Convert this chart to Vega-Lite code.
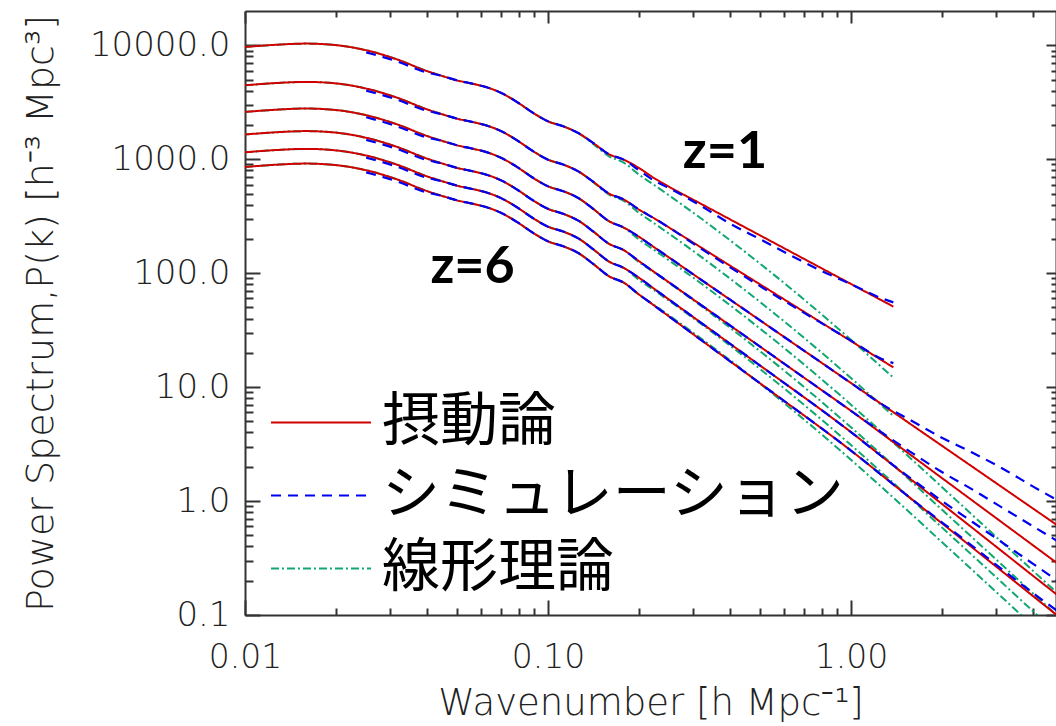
{
  "$schema": "https://vega.github.io/schema/vega-lite/v6.json",
  "width": 811,
  "height": 604,
  "autosize": {"type": "none"},
  "padding": {"left": 245, "top": 11, "right": 0, "bottom": 111},
  "background": "white",
  "config": {"view": {"stroke": null}, "font": "DejaVu Sans"},
  "layer": [
    {
      "data": {"values": [
        {"s":"線形理論","z":1,"k":0.01,"P":9663},{"s":"線形理論","z":1,"k":0.01259,"P":10101},{"s":"線形理論","z":1,"k":0.01585,"P":10349},{"s":"線形理論","z":1,"k":0.01995,"P":10041},{"s":"線形理論","z":1,"k":0.02512,"P":9040},{"s":"線形理論","z":1,"k":0.03162,"P":7552},{"s":"線形理論","z":1,"k":0.03981,"P":5951},{"s":"線形理論","z":1,"k":0.04467,"P":5390},{"s":"線形理論","z":1,"k":0.05012,"P":4922},{"s":"線形理論","z":1,"k":0.05623,"P":4606},{"s":"線形理論","z":1,"k":0.0631,"P":4264},{"s":"線形理論","z":1,"k":0.07079,"P":3770},{"s":"線形理論","z":1,"k":0.07943,"P":3150},{"s":"線形理論","z":1,"k":0.08913,"P":2558},{"s":"線形理論","z":1,"k":0.1,"P":2150},{"s":"線形理論","z":1,"k":0.1122,"P":1948},{"s":"線形理論","z":1,"k":0.1259,"P":1697},{"s":"線形理論","z":1,"k":0.1413,"P":1357},{"s":"線形理論","z":1,"k":0.1585,"P":1067},{"s":"線形理論","z":1,"k":0.1778,"P":933.7},{"s":"線形理論","z":1,"k":0.1995,"P":734.2},{"s":"線形理論","z":1,"k":0.2239,"P":595.1},{"s":"線形理論","z":1,"k":0.2512,"P":480.4},{"s":"線形理論","z":1,"k":0.3162,"P":309.3},{"s":"線形理論","z":1,"k":0.3981,"P":195.2},{"s":"線形理論","z":1,"k":0.5012,"P":121.1},{"s":"線形理論","z":1,"k":0.631,"P":73.86},{"s":"線形理論","z":1,"k":0.7943,"P":44.22},{"s":"線形理論","z":1,"k":1.0,"P":26.05},{"s":"線形理論","z":1,"k":1.259,"P":15.07},{"s":"線形理論","z":1,"k":1.38,"P":12.14},
        {"s":"線形理論","z":2,"k":0.01,"P":4458},{"s":"線形理論","z":2,"k":0.01259,"P":4660},{"s":"線形理論","z":2,"k":0.01585,"P":4774},{"s":"線形理論","z":2,"k":0.01995,"P":4632},{"s":"線形理論","z":2,"k":0.02512,"P":4170},{"s":"線形理論","z":2,"k":0.03162,"P":3484},{"s":"線形理論","z":2,"k":0.03981,"P":2745},{"s":"線形理論","z":2,"k":0.04467,"P":2486},{"s":"線形理論","z":2,"k":0.05012,"P":2271},{"s":"線形理論","z":2,"k":0.05623,"P":2125},{"s":"線形理論","z":2,"k":0.0631,"P":1967},{"s":"線形理論","z":2,"k":0.07079,"P":1739},{"s":"線形理論","z":2,"k":0.07943,"P":1453},{"s":"線形理論","z":2,"k":0.08913,"P":1180},{"s":"線形理論","z":2,"k":0.1,"P":991.8},{"s":"線形理論","z":2,"k":0.1122,"P":898.6},{"s":"線形理論","z":2,"k":0.1259,"P":782.8},{"s":"線形理論","z":2,"k":0.1413,"P":626.0},{"s":"線形理論","z":2,"k":0.1585,"P":492.2},{"s":"線形理論","z":2,"k":0.1778,"P":430.7},{"s":"線形理論","z":2,"k":0.1995,"P":338.7},{"s":"線形理論","z":2,"k":0.2239,"P":274.5},{"s":"線形理論","z":2,"k":0.2512,"P":221.6},{"s":"線形理論","z":2,"k":0.3162,"P":142.7},{"s":"線形理論","z":2,"k":0.3981,"P":90.05},{"s":"線形理論","z":2,"k":0.5012,"P":55.86},{"s":"線形理論","z":2,"k":0.631,"P":34.07},{"s":"線形理論","z":2,"k":0.7943,"P":20.40},{"s":"線形理論","z":2,"k":1.0,"P":12.02},{"s":"線形理論","z":2,"k":1.259,"P":6.952},{"s":"線形理論","z":2,"k":1.38,"P":5.600},
        {"s":"線形理論","z":3,"k":0.01,"P":2601},{"s":"線形理論","z":3,"k":0.01259,"P":2719},{"s":"線形理論","z":3,"k":0.01585,"P":2786},{"s":"線形理論","z":3,"k":0.01995,"P":2703},{"s":"線形理論","z":3,"k":0.02512,"P":2434},{"s":"線形理論","z":3,"k":0.03162,"P":2033},{"s":"線形理論","z":3,"k":0.03981,"P":1602},{"s":"線形理論","z":3,"k":0.04467,"P":1451},{"s":"線形理論","z":3,"k":0.05012,"P":1325},{"s":"線形理論","z":3,"k":0.05623,"P":1240},{"s":"線形理論","z":3,"k":0.0631,"P":1148},{"s":"線形理論","z":3,"k":0.07079,"P":1015},{"s":"線形理論","z":3,"k":0.07943,"P":848.0},{"s":"線形理論","z":3,"k":0.08913,"P":688.6},{"s":"線形理論","z":3,"k":0.1,"P":578.8},{"s":"線形理論","z":3,"k":0.1122,"P":524.4},{"s":"線形理論","z":3,"k":0.1259,"P":456.8},{"s":"線形理論","z":3,"k":0.1413,"P":365.3},{"s":"線形理論","z":3,"k":0.1585,"P":287.2},{"s":"線形理論","z":3,"k":0.1778,"P":251.4},{"s":"線形理論","z":3,"k":0.1995,"P":197.6},{"s":"線形理論","z":3,"k":0.2239,"P":160.2},{"s":"線形理論","z":3,"k":0.2512,"P":129.3},{"s":"線形理論","z":3,"k":0.3162,"P":83.26},{"s":"線形理論","z":3,"k":0.3981,"P":52.55},{"s":"線形理論","z":3,"k":0.5012,"P":32.60},{"s":"線形理論","z":3,"k":0.631,"P":19.88},{"s":"線形理論","z":3,"k":0.7943,"P":11.90},{"s":"線形理論","z":3,"k":1.0,"P":7.013},{"s":"線形理論","z":3,"k":1.259,"P":4.057},{"s":"線形理論","z":3,"k":1.585,"P":2.332},{"s":"線形理論","z":3,"k":1.995,"P":1.328},{"s":"線形理論","z":3,"k":2.512,"P":0.7573},{"s":"線形理論","z":3,"k":3.162,"P":0.4310},{"s":"線形理論","z":3,"k":3.981,"P":0.2453},{"s":"線形理論","z":3,"k":5.012,"P":0.1399},
        {"s":"線形理論","z":4,"k":0.01,"P":1649},{"s":"線形理論","z":4,"k":0.01259,"P":1723},{"s":"線形理論","z":4,"k":0.01585,"P":1766},{"s":"線形理論","z":4,"k":0.01995,"P":1713},{"s":"線形理論","z":4,"k":0.02512,"P":1542},{"s":"線形理論","z":4,"k":0.03162,"P":1288},{"s":"線形理論","z":4,"k":0.03981,"P":1015},{"s":"線形理論","z":4,"k":0.04467,"P":919.5},{"s":"線形理論","z":4,"k":0.05012,"P":839.7},{"s":"線形理論","z":4,"k":0.05623,"P":785.8},{"s":"線形理論","z":4,"k":0.0631,"P":727.4},{"s":"線形理論","z":4,"k":0.07079,"P":643.2},{"s":"線形理論","z":4,"k":0.07943,"P":537.4},{"s":"線形理論","z":4,"k":0.08913,"P":436.4},{"s":"線形理論","z":4,"k":0.1,"P":366.8},{"s":"線形理論","z":4,"k":0.1122,"P":332.3},{"s":"線形理論","z":4,"k":0.1259,"P":289.5},{"s":"線形理論","z":4,"k":0.1413,"P":231.5},{"s":"線形理論","z":4,"k":0.1585,"P":182.0},{"s":"線形理論","z":4,"k":0.1778,"P":159.3},{"s":"線形理論","z":4,"k":0.1995,"P":125.3},{"s":"線形理論","z":4,"k":0.2239,"P":101.5},{"s":"線形理論","z":4,"k":0.2512,"P":81.96},{"s":"線形理論","z":4,"k":0.3162,"P":52.77},{"s":"線形理論","z":4,"k":0.3981,"P":33.30},{"s":"線形理論","z":4,"k":0.5012,"P":20.66},{"s":"線形理論","z":4,"k":0.631,"P":12.60},{"s":"線形理論","z":4,"k":0.7943,"P":7.544},{"s":"線形理論","z":4,"k":1.0,"P":4.444},{"s":"線形理論","z":4,"k":1.259,"P":2.571},{"s":"線形理論","z":4,"k":1.585,"P":1.478},{"s":"線形理論","z":4,"k":1.995,"P":0.8414},{"s":"線形理論","z":4,"k":2.512,"P":0.4799},{"s":"線形理論","z":4,"k":3.162,"P":0.2731},{"s":"線形理論","z":4,"k":3.981,"P":0.1554},{"s":"線形理論","z":4,"k":5.012,"P":0.0886},
        {"s":"線形理論","z":5,"k":0.01,"P":1151},{"s":"線形理論","z":5,"k":0.01259,"P":1203},{"s":"線形理論","z":5,"k":0.01585,"P":1233},{"s":"線形理論","z":5,"k":0.01995,"P":1196},{"s":"線形理論","z":5,"k":0.02512,"P":1077},{"s":"線形理論","z":5,"k":0.03162,"P":899.4},{"s":"線形理論","z":5,"k":0.03981,"P":708.8},{"s":"線形理論","z":5,"k":0.04467,"P":642.0},{"s":"線形理論","z":5,"k":0.05012,"P":586.2},{"s":"線形理論","z":5,"k":0.05623,"P":548.6},{"s":"線形理論","z":5,"k":0.0631,"P":507.8},{"s":"線形理論","z":5,"k":0.07079,"P":449.0},{"s":"線形理論","z":5,"k":0.07943,"P":375.2},{"s":"線形理論","z":5,"k":0.08913,"P":304.7},{"s":"線形理論","z":5,"k":0.1,"P":256.1},{"s":"線形理論","z":5,"k":0.1122,"P":232.0},{"s":"線形理論","z":5,"k":0.1259,"P":202.1},{"s":"線形理論","z":5,"k":0.1413,"P":161.6},{"s":"線形理論","z":5,"k":0.1585,"P":127.1},{"s":"線形理論","z":5,"k":0.1778,"P":111.2},{"s":"線形理論","z":5,"k":0.1995,"P":87.44},{"s":"線形理論","z":5,"k":0.2239,"P":70.88},{"s":"線形理論","z":5,"k":0.2512,"P":57.22},{"s":"線形理論","z":5,"k":0.3162,"P":36.84},{"s":"線形理論","z":5,"k":0.3981,"P":23.25},{"s":"線形理論","z":5,"k":0.5012,"P":14.42},{"s":"線形理論","z":5,"k":0.631,"P":8.797},{"s":"線形理論","z":5,"k":0.7943,"P":5.267},{"s":"線形理論","z":5,"k":1.0,"P":3.103},{"s":"線形理論","z":5,"k":1.259,"P":1.795},{"s":"線形理論","z":5,"k":1.585,"P":1.032},{"s":"線形理論","z":5,"k":1.995,"P":0.5874},{"s":"線形理論","z":5,"k":2.512,"P":0.3350},{"s":"線形理論","z":5,"k":3.162,"P":0.1907},{"s":"線形理論","z":5,"k":3.981,"P":0.1085},{"s":"線形理論","z":5,"k":5.012,"P":0.0619},
        {"s":"線形理論","z":6,"k":0.01,"P":855.2},{"s":"線形理論","z":6,"k":0.01259,"P":893.9},{"s":"線形理論","z":6,"k":0.01585,"P":915.9},{"s":"線形理論","z":6,"k":0.01995,"P":888.6},{"s":"線形理論","z":6,"k":0.02512,"P":800.0},{"s":"線形理論","z":6,"k":0.03162,"P":668.4},{"s":"線形理論","z":6,"k":0.03981,"P":526.7},{"s":"線形理論","z":6,"k":0.04467,"P":477.0},{"s":"線形理論","z":6,"k":0.05012,"P":435.6},{"s":"線形理論","z":6,"k":0.05623,"P":407.6},{"s":"線形理論","z":6,"k":0.0631,"P":377.4},{"s":"線形理論","z":6,"k":0.07079,"P":333.6},{"s":"線形理論","z":6,"k":0.07943,"P":278.8},{"s":"線形理論","z":6,"k":0.08913,"P":226.4},{"s":"線形理論","z":6,"k":0.1,"P":190.3},{"s":"線形理論","z":6,"k":0.1122,"P":172.4},{"s":"線形理論","z":6,"k":0.1259,"P":150.2},{"s":"線形理論","z":6,"k":0.1413,"P":120.1},{"s":"線形理論","z":6,"k":0.1585,"P":94.43},{"s":"線形理論","z":6,"k":0.1778,"P":82.63},{"s":"線形理論","z":6,"k":0.1995,"P":64.98},{"s":"線形理論","z":6,"k":0.2239,"P":52.67},{"s":"線形理論","z":6,"k":0.2512,"P":42.52},{"s":"線形理論","z":6,"k":0.3162,"P":27.37},{"s":"線形理論","z":6,"k":0.3981,"P":17.28},{"s":"線形理論","z":6,"k":0.5012,"P":10.72},{"s":"線形理論","z":6,"k":0.631,"P":6.537},{"s":"線形理論","z":6,"k":0.7943,"P":3.913},{"s":"線形理論","z":6,"k":1.0,"P":2.305},{"s":"線形理論","z":6,"k":1.259,"P":1.334},{"s":"線形理論","z":6,"k":1.585,"P":0.7668},{"s":"線形理論","z":6,"k":1.995,"P":0.4365},{"s":"線形理論","z":6,"k":2.512,"P":0.2490},{"s":"線形理論","z":6,"k":3.162,"P":0.1417},{"s":"線形理論","z":6,"k":3.981,"P":0.0806},{"s":"線形理論","z":6,"k":5.012,"P":0.0460},

        {"s":"摂動論","z":1,"k":0.01,"P":9663},{"s":"摂動論","z":1,"k":0.01259,"P":10101},{"s":"摂動論","z":1,"k":0.01585,"P":10349},{"s":"摂動論","z":1,"k":0.01995,"P":10041},{"s":"摂動論","z":1,"k":0.02512,"P":9040},{"s":"摂動論","z":1,"k":0.03162,"P":7552},{"s":"摂動論","z":1,"k":0.03981,"P":5951},{"s":"摂動論","z":1,"k":0.04467,"P":5390},{"s":"摂動論","z":1,"k":0.05012,"P":4922},{"s":"摂動論","z":1,"k":0.05623,"P":4606},{"s":"摂動論","z":1,"k":0.0631,"P":4264},{"s":"摂動論","z":1,"k":0.07079,"P":3770},{"s":"摂動論","z":1,"k":0.07943,"P":3150},{"s":"摂動論","z":1,"k":0.08913,"P":2558},{"s":"摂動論","z":1,"k":0.1,"P":2150},{"s":"摂動論","z":1,"k":0.1122,"P":1948},{"s":"摂動論","z":1,"k":0.1259,"P":1697},{"s":"摂動論","z":1,"k":0.1413,"P":1384},{"s":"摂動論","z":1,"k":0.1585,"P":1111},{"s":"摂動論","z":1,"k":0.1778,"P":992.0},{"s":"摂動論","z":1,"k":0.1995,"P":838.9},{"s":"摂動論","z":1,"k":0.2239,"P":684.1},{"s":"摂動論","z":1,"k":0.2512,"P":572.7},{"s":"摂動論","z":1,"k":0.3162,"P":412.9},{"s":"摂動論","z":1,"k":0.3981,"P":297.6},{"s":"摂動論","z":1,"k":0.5012,"P":214.6},{"s":"摂動論","z":1,"k":0.631,"P":154.7},{"s":"摂動論","z":1,"k":0.7943,"P":111.5},{"s":"摂動論","z":1,"k":1.0,"P":80.40},{"s":"摂動論","z":1,"k":1.259,"P":57.97},{"s":"摂動論","z":1,"k":1.38,"P":50.93},
        {"s":"摂動論","z":2,"k":0.01,"P":4458},{"s":"摂動論","z":2,"k":0.01259,"P":4660},{"s":"摂動論","z":2,"k":0.01585,"P":4774},{"s":"摂動論","z":2,"k":0.01995,"P":4632},{"s":"摂動論","z":2,"k":0.02512,"P":4170},{"s":"摂動論","z":2,"k":0.03162,"P":3484},{"s":"摂動論","z":2,"k":0.03981,"P":2745},{"s":"摂動論","z":2,"k":0.04467,"P":2486},{"s":"摂動論","z":2,"k":0.05012,"P":2271},{"s":"摂動論","z":2,"k":0.05623,"P":2125},{"s":"摂動論","z":2,"k":0.0631,"P":1967},{"s":"摂動論","z":2,"k":0.07079,"P":1739},{"s":"摂動論","z":2,"k":0.07943,"P":1453},{"s":"摂動論","z":2,"k":0.08913,"P":1180},{"s":"摂動論","z":2,"k":0.1,"P":991.8},{"s":"摂動論","z":2,"k":0.1122,"P":898.6},{"s":"摂動論","z":2,"k":0.1259,"P":782.8},{"s":"摂動論","z":2,"k":0.1413,"P":632.3},{"s":"摂動論","z":2,"k":0.1585,"P":502.1},{"s":"摂動論","z":2,"k":0.1778,"P":444.0},{"s":"摂動論","z":2,"k":0.1995,"P":362.2},{"s":"摂動論","z":2,"k":0.2239,"P":303.7},{"s":"摂動論","z":2,"k":0.2512,"P":251.2},{"s":"摂動論","z":2,"k":0.3162,"P":171.5},{"s":"摂動論","z":2,"k":0.3981,"P":116.8},{"s":"摂動論","z":2,"k":0.5012,"P":79.76},{"s":"摂動論","z":2,"k":0.631,"P":54.45},{"s":"摂動論","z":2,"k":0.7943,"P":37.17},{"s":"摂動論","z":2,"k":1.0,"P":25.37},{"s":"摂動論","z":2,"k":1.259,"P":17.32},{"s":"摂動論","z":2,"k":1.38,"P":14.89},
        {"s":"摂動論","z":3,"k":0.01,"P":2601},{"s":"摂動論","z":3,"k":0.01259,"P":2719},{"s":"摂動論","z":3,"k":0.01585,"P":2786},{"s":"摂動論","z":3,"k":0.01995,"P":2703},{"s":"摂動論","z":3,"k":0.02512,"P":2434},{"s":"摂動論","z":3,"k":0.03162,"P":2033},{"s":"摂動論","z":3,"k":0.03981,"P":1602},{"s":"摂動論","z":3,"k":0.04467,"P":1451},{"s":"摂動論","z":3,"k":0.05012,"P":1325},{"s":"摂動論","z":3,"k":0.05623,"P":1240},{"s":"摂動論","z":3,"k":0.0631,"P":1148},{"s":"摂動論","z":3,"k":0.07079,"P":1015},{"s":"摂動論","z":3,"k":0.07943,"P":848.0},{"s":"摂動論","z":3,"k":0.08913,"P":688.6},{"s":"摂動論","z":3,"k":0.1,"P":578.8},{"s":"摂動論","z":3,"k":0.1122,"P":524.4},{"s":"摂動論","z":3,"k":0.1259,"P":456.8},{"s":"摂動論","z":3,"k":0.1413,"P":365.3},{"s":"摂動論","z":3,"k":0.1585,"P":287.2},{"s":"摂動論","z":3,"k":0.1778,"P":251.4},{"s":"摂動論","z":3,"k":0.1995,"P":209.0},{"s":"摂動論","z":3,"k":0.2239,"P":169.1},{"s":"摂動論","z":3,"k":0.2512,"P":137.0},{"s":"摂動論","z":3,"k":0.3162,"P":89.65},{"s":"摂動論","z":3,"k":0.3981,"P":58.79},{"s":"摂動論","z":3,"k":0.5012,"P":38.55},{"s":"摂動論","z":3,"k":0.631,"P":25.26},{"s":"摂動論","z":3,"k":0.7943,"P":16.57},{"s":"摂動論","z":3,"k":1.0,"P":10.86},{"s":"摂動論","z":3,"k":1.259,"P":7.123},{"s":"摂動論","z":3,"k":1.585,"P":4.670},{"s":"摂動論","z":3,"k":1.995,"P":3.062},{"s":"摂動論","z":3,"k":2.512,"P":2.007},{"s":"摂動論","z":3,"k":3.162,"P":1.316},{"s":"摂動論","z":3,"k":3.981,"P":0.8630},{"s":"摂動論","z":3,"k":5.012,"P":0.5657},
        {"s":"摂動論","z":4,"k":0.01,"P":1649},{"s":"摂動論","z":4,"k":0.01259,"P":1723},{"s":"摂動論","z":4,"k":0.01585,"P":1766},{"s":"摂動論","z":4,"k":0.01995,"P":1713},{"s":"摂動論","z":4,"k":0.02512,"P":1542},{"s":"摂動論","z":4,"k":0.03162,"P":1288},{"s":"摂動論","z":4,"k":0.03981,"P":1015},{"s":"摂動論","z":4,"k":0.04467,"P":919.5},{"s":"摂動論","z":4,"k":0.05012,"P":839.7},{"s":"摂動論","z":4,"k":0.05623,"P":785.8},{"s":"摂動論","z":4,"k":0.0631,"P":727.4},{"s":"摂動論","z":4,"k":0.07079,"P":643.2},{"s":"摂動論","z":4,"k":0.07943,"P":537.4},{"s":"摂動論","z":4,"k":0.08913,"P":436.4},{"s":"摂動論","z":4,"k":0.1,"P":366.8},{"s":"摂動論","z":4,"k":0.1122,"P":332.3},{"s":"摂動論","z":4,"k":0.1259,"P":289.5},{"s":"摂動論","z":4,"k":0.1413,"P":231.5},{"s":"摂動論","z":4,"k":0.1585,"P":182.0},{"s":"摂動論","z":4,"k":0.1778,"P":159.3},{"s":"摂動論","z":4,"k":0.1995,"P":127.7},{"s":"摂動論","z":4,"k":0.2239,"P":102.7},{"s":"摂動論","z":4,"k":0.2512,"P":82.84},{"s":"摂動論","z":4,"k":0.3162,"P":53.79},{"s":"摂動論","z":4,"k":0.3981,"P":34.91},{"s":"摂動論","z":4,"k":0.5012,"P":22.66},{"s":"摂動論","z":4,"k":0.631,"P":14.71},{"s":"摂動論","z":4,"k":0.7943,"P":9.546},{"s":"摂動論","z":4,"k":1.0,"P":6.197},{"s":"摂動論","z":4,"k":1.259,"P":3.940},{"s":"摂動論","z":4,"k":1.585,"P":2.507},{"s":"摂動論","z":4,"k":1.995,"P":1.594},{"s":"摂動論","z":4,"k":2.512,"P":1.014},{"s":"摂動論","z":4,"k":3.162,"P":0.6452},{"s":"摂動論","z":4,"k":3.981,"P":0.4104},{"s":"摂動論","z":4,"k":5.012,"P":0.2611},
        {"s":"摂動論","z":5,"k":0.01,"P":1151},{"s":"摂動論","z":5,"k":0.01259,"P":1203},{"s":"摂動論","z":5,"k":0.01585,"P":1233},{"s":"摂動論","z":5,"k":0.01995,"P":1196},{"s":"摂動論","z":5,"k":0.02512,"P":1077},{"s":"摂動論","z":5,"k":0.03162,"P":899.4},{"s":"摂動論","z":5,"k":0.03981,"P":708.8},{"s":"摂動論","z":5,"k":0.04467,"P":642.0},{"s":"摂動論","z":5,"k":0.05012,"P":586.2},{"s":"摂動論","z":5,"k":0.05623,"P":548.6},{"s":"摂動論","z":5,"k":0.0631,"P":507.8},{"s":"摂動論","z":5,"k":0.07079,"P":449.0},{"s":"摂動論","z":5,"k":0.07943,"P":375.2},{"s":"摂動論","z":5,"k":0.08913,"P":304.7},{"s":"摂動論","z":5,"k":0.1,"P":256.1},{"s":"摂動論","z":5,"k":0.1122,"P":232.0},{"s":"摂動論","z":5,"k":0.1259,"P":202.1},{"s":"摂動論","z":5,"k":0.1413,"P":161.6},{"s":"摂動論","z":5,"k":0.1585,"P":127.1},{"s":"摂動論","z":5,"k":0.1778,"P":111.2},{"s":"摂動論","z":5,"k":0.1995,"P":91.29},{"s":"摂動論","z":5,"k":0.2239,"P":73.11},{"s":"摂動論","z":5,"k":0.2512,"P":58.55},{"s":"摂動論","z":5,"k":0.3162,"P":37.62},{"s":"摂動論","z":5,"k":0.3981,"P":24.13},{"s":"摂動論","z":5,"k":0.5012,"P":15.47},{"s":"摂動論","z":5,"k":0.631,"P":9.940},{"s":"摂動論","z":5,"k":0.7943,"P":6.374},{"s":"摂動論","z":5,"k":1.0,"P":4.030},{"s":"摂動論","z":5,"k":1.259,"P":2.486},{"s":"摂動論","z":5,"k":1.585,"P":1.531},{"s":"摂動論","z":5,"k":1.995,"P":0.9450},{"s":"摂動論","z":5,"k":2.512,"P":0.5832},{"s":"摂動論","z":5,"k":3.162,"P":0.3598},{"s":"摂動論","z":5,"k":3.981,"P":0.2216},{"s":"摂動論","z":5,"k":5.012,"P":0.1368},
        {"s":"摂動論","z":6,"k":0.01,"P":855.2},{"s":"摂動論","z":6,"k":0.01259,"P":893.9},{"s":"摂動論","z":6,"k":0.01585,"P":915.9},{"s":"摂動論","z":6,"k":0.01995,"P":888.6},{"s":"摂動論","z":6,"k":0.02512,"P":800.0},{"s":"摂動論","z":6,"k":0.03162,"P":668.4},{"s":"摂動論","z":6,"k":0.03981,"P":526.7},{"s":"摂動論","z":6,"k":0.04467,"P":477.0},{"s":"摂動論","z":6,"k":0.05012,"P":435.6},{"s":"摂動論","z":6,"k":0.05623,"P":407.6},{"s":"摂動論","z":6,"k":0.0631,"P":377.4},{"s":"摂動論","z":6,"k":0.07079,"P":333.6},{"s":"摂動論","z":6,"k":0.07943,"P":278.8},{"s":"摂動論","z":6,"k":0.08913,"P":226.4},{"s":"摂動論","z":6,"k":0.1,"P":190.3},{"s":"摂動論","z":6,"k":0.1122,"P":172.4},{"s":"摂動論","z":6,"k":0.1259,"P":150.2},{"s":"摂動論","z":6,"k":0.1413,"P":120.1},{"s":"摂動論","z":6,"k":0.1585,"P":94.43},{"s":"摂動論","z":6,"k":0.1778,"P":82.63},{"s":"摂動論","z":6,"k":0.1995,"P":65.16},{"s":"摂動論","z":6,"k":0.2239,"P":52.08},{"s":"摂動論","z":6,"k":0.2512,"P":41.63},{"s":"摂動論","z":6,"k":0.3162,"P":26.53},{"s":"摂動論","z":6,"k":0.3981,"P":16.94},{"s":"摂動論","z":6,"k":0.5012,"P":10.80},{"s":"摂動論","z":6,"k":0.631,"P":6.897},{"s":"摂動論","z":6,"k":0.7943,"P":4.405},{"s":"摂動論","z":6,"k":1.0,"P":2.773},{"s":"摂動論","z":6,"k":1.259,"P":1.701},{"s":"摂動論","z":6,"k":1.585,"P":1.041},{"s":"摂動論","z":6,"k":1.995,"P":0.6388},{"s":"摂動論","z":6,"k":2.512,"P":0.3917},{"s":"摂動論","z":6,"k":3.162,"P":0.2403},{"s":"摂動論","z":6,"k":3.981,"P":0.1471},{"s":"摂動論","z":6,"k":5.012,"P":0.0902},

        {"s":"シミュレーション","z":1,"k":0.02512,"P":8678},{"s":"シミュレーション","z":1,"k":0.03162,"P":7250},{"s":"シミュレーション","z":1,"k":0.03981,"P":5772},{"s":"シミュレーション","z":1,"k":0.04467,"P":5390},{"s":"シミュレーション","z":1,"k":0.05012,"P":4922},{"s":"シミュレーション","z":1,"k":0.05623,"P":4606},{"s":"シミュレーション","z":1,"k":0.0631,"P":4264},{"s":"シミュレーション","z":1,"k":0.07079,"P":3770},{"s":"シミュレーション","z":1,"k":0.07943,"P":3150},{"s":"シミュレーション","z":1,"k":0.08913,"P":2558},{"s":"シミュレーション","z":1,"k":0.1,"P":2150},{"s":"シミュレーション","z":1,"k":0.1122,"P":1948},{"s":"シミュレーション","z":1,"k":0.1259,"P":1697},{"s":"シミュレーション","z":1,"k":0.1413,"P":1384},{"s":"シミュレーション","z":1,"k":0.1585,"P":1111},{"s":"シミュレーション","z":1,"k":0.1778,"P":992.0},{"s":"シミュレーション","z":1,"k":0.1995,"P":800.8},{"s":"シミュレーション","z":1,"k":0.2239,"P":649.2},{"s":"シミュレーション","z":1,"k":0.2512,"P":556.8},{"s":"シミュレーション","z":1,"k":0.3162,"P":397.2},{"s":"シミュレーション","z":1,"k":0.3981,"P":273.4},{"s":"シミュレーション","z":1,"k":0.5012,"P":198.7},{"s":"シミュレーション","z":1,"k":0.631,"P":143.8},{"s":"シミュレーション","z":1,"k":0.7943,"P":105.6},{"s":"シミュレーション","z":1,"k":1.0,"P":80.07},{"s":"シミュレーション","z":1,"k":1.259,"P":60.35},{"s":"シミュレーション","z":1,"k":1.38,"P":55.45},
        {"s":"シミュレーション","z":2,"k":0.02512,"P":4003},{"s":"シミュレーション","z":2,"k":0.03162,"P":3345},{"s":"シミュレーション","z":2,"k":0.03981,"P":2663},{"s":"シミュレーション","z":2,"k":0.04467,"P":2486},{"s":"シミュレーション","z":2,"k":0.05012,"P":2271},{"s":"シミュレーション","z":2,"k":0.05623,"P":2125},{"s":"シミュレーション","z":2,"k":0.0631,"P":1967},{"s":"シミュレーション","z":2,"k":0.07079,"P":1739},{"s":"シミュレーション","z":2,"k":0.07943,"P":1453},{"s":"シミュレーション","z":2,"k":0.08913,"P":1180},{"s":"シミュレーション","z":2,"k":0.1,"P":991.8},{"s":"シミュレーション","z":2,"k":0.1122,"P":898.6},{"s":"シミュレーション","z":2,"k":0.1259,"P":782.8},{"s":"シミュレーション","z":2,"k":0.1413,"P":632.3},{"s":"シミュレーション","z":2,"k":0.1585,"P":502.1},{"s":"シミュレーション","z":2,"k":0.1778,"P":444.0},{"s":"シミュレーション","z":2,"k":0.1995,"P":362.2},{"s":"シミュレーション","z":2,"k":0.2239,"P":303.7},{"s":"シミュレーション","z":2,"k":0.2512,"P":251.2},{"s":"シミュレーション","z":2,"k":0.3162,"P":167.4},{"s":"シミュレーション","z":2,"k":0.3981,"P":112.9},{"s":"シミュレーション","z":2,"k":0.5012,"P":76.91},{"s":"シミュレーション","z":2,"k":0.631,"P":52.92},{"s":"シミュレーション","z":2,"k":0.7943,"P":36.79},{"s":"シミュレーション","z":2,"k":1.0,"P":25.58},{"s":"シミュレーション","z":2,"k":1.259,"P":17.78},{"s":"シミュレーション","z":2,"k":1.38,"P":16.24},
        {"s":"シミュレーション","z":3,"k":0.02512,"P":2337},{"s":"シミュレーション","z":3,"k":0.03162,"P":1952},{"s":"シミュレーション","z":3,"k":0.03981,"P":1554},{"s":"シミュレーション","z":3,"k":0.04467,"P":1451},{"s":"シミュレーション","z":3,"k":0.05012,"P":1325},{"s":"シミュレーション","z":3,"k":0.05623,"P":1240},{"s":"シミュレーション","z":3,"k":0.0631,"P":1148},{"s":"シミュレーション","z":3,"k":0.07079,"P":1015},{"s":"シミュレーション","z":3,"k":0.07943,"P":848.0},{"s":"シミュレーション","z":3,"k":0.08913,"P":688.6},{"s":"シミュレーション","z":3,"k":0.1,"P":578.8},{"s":"シミュレーション","z":3,"k":0.1122,"P":524.4},{"s":"シミュレーション","z":3,"k":0.1259,"P":456.8},{"s":"シミュレーション","z":3,"k":0.1413,"P":365.3},{"s":"シミュレーション","z":3,"k":0.1585,"P":287.2},{"s":"シミュレーション","z":3,"k":0.1778,"P":251.4},{"s":"シミュレーション","z":3,"k":0.1995,"P":209.0},{"s":"シミュレーション","z":3,"k":0.2239,"P":169.1},{"s":"シミュレーション","z":3,"k":0.2512,"P":137.0},{"s":"シミュレーション","z":3,"k":0.3162,"P":89.65},{"s":"シミュレーション","z":3,"k":0.3981,"P":58.79},{"s":"シミュレーション","z":3,"k":0.5012,"P":38.55},{"s":"シミュレーション","z":3,"k":0.631,"P":25.26},{"s":"シミュレーション","z":3,"k":0.7943,"P":16.57},{"s":"シミュレーション","z":3,"k":1.0,"P":10.86},{"s":"シミュレーション","z":3,"k":1.259,"P":7.123},{"s":"シミュレーション","z":3,"k":1.585,"P":5.062},{"s":"シミュレーション","z":3,"k":1.995,"P":3.598},{"s":"シミュレーション","z":3,"k":2.512,"P":2.663},{"s":"シミュレーション","z":3,"k":3.162,"P":1.932},{"s":"シミュレーション","z":3,"k":3.981,"P":1.346},{"s":"シミュレーション","z":3,"k":5.012,"P":0.9565},
        {"s":"シミュレーション","z":4,"k":0.02512,"P":1480},{"s":"シミュレーション","z":4,"k":0.03162,"P":1236},{"s":"シミュレーション","z":4,"k":0.03981,"P":984.6},{"s":"シミュレーション","z":4,"k":0.04467,"P":919.5},{"s":"シミュレーション","z":4,"k":0.05012,"P":839.7},{"s":"シミュレーション","z":4,"k":0.05623,"P":785.8},{"s":"シミュレーション","z":4,"k":0.0631,"P":727.4},{"s":"シミュレーション","z":4,"k":0.07079,"P":643.2},{"s":"シミュレーション","z":4,"k":0.07943,"P":537.4},{"s":"シミュレーション","z":4,"k":0.08913,"P":436.4},{"s":"シミュレーション","z":4,"k":0.1,"P":366.8},{"s":"シミュレーション","z":4,"k":0.1122,"P":332.3},{"s":"シミュレーション","z":4,"k":0.1259,"P":289.5},{"s":"シミュレーション","z":4,"k":0.1413,"P":231.5},{"s":"シミュレーション","z":4,"k":0.1585,"P":182.0},{"s":"シミュレーション","z":4,"k":0.1778,"P":159.3},{"s":"シミュレーション","z":4,"k":0.1995,"P":127.7},{"s":"シミュレーション","z":4,"k":0.2239,"P":102.7},{"s":"シミュレーション","z":4,"k":0.2512,"P":82.84},{"s":"シミュレーション","z":4,"k":0.3162,"P":53.79},{"s":"シミュレーション","z":4,"k":0.3981,"P":34.91},{"s":"シミュレーション","z":4,"k":0.5012,"P":22.66},{"s":"シミュレーション","z":4,"k":0.631,"P":14.71},{"s":"シミュレーション","z":4,"k":0.7943,"P":9.546},{"s":"シミュレーション","z":4,"k":1.0,"P":6.197},{"s":"シミュレーション","z":4,"k":1.259,"P":4.021},{"s":"シミュレーション","z":4,"k":1.585,"P":2.663},{"s":"シミュレーション","z":4,"k":1.995,"P":1.800},{"s":"シミュレーション","z":4,"k":2.512,"P":1.266},{"s":"シミュレーション","z":4,"k":3.162,"P":0.8734},{"s":"シミュレーション","z":4,"k":3.981,"P":0.6023},{"s":"シミュレーション","z":4,"k":5.012,"P":0.4153},
        {"s":"シミュレーション","z":5,"k":0.02512,"P":1034},{"s":"シミュレーション","z":5,"k":0.03162,"P":863.4},{"s":"シミュレーション","z":5,"k":0.03981,"P":687.5},{"s":"シミュレーション","z":5,"k":0.04467,"P":642.0},{"s":"シミュレーション","z":5,"k":0.05012,"P":586.2},{"s":"シミュレーション","z":5,"k":0.05623,"P":548.6},{"s":"シミュレーション","z":5,"k":0.0631,"P":507.8},{"s":"シミュレーション","z":5,"k":0.07079,"P":449.0},{"s":"シミュレーション","z":5,"k":0.07943,"P":375.2},{"s":"シミュレーション","z":5,"k":0.08913,"P":304.7},{"s":"シミュレーション","z":5,"k":0.1,"P":256.1},{"s":"シミュレーション","z":5,"k":0.1122,"P":232.0},{"s":"シミュレーション","z":5,"k":0.1259,"P":202.1},{"s":"シミュレーション","z":5,"k":0.1413,"P":161.6},{"s":"シミュレーション","z":5,"k":0.1585,"P":127.1},{"s":"シミュレーション","z":5,"k":0.1778,"P":111.2},{"s":"シミュレーション","z":5,"k":0.1995,"P":91.29},{"s":"シミュレーション","z":5,"k":0.2239,"P":73.11},{"s":"シミュレーション","z":5,"k":0.2512,"P":58.55},{"s":"シミュレーション","z":5,"k":0.3162,"P":37.62},{"s":"シミュレーション","z":5,"k":0.3981,"P":24.13},{"s":"シミュレーション","z":5,"k":0.5012,"P":15.47},{"s":"シミュレーション","z":5,"k":0.631,"P":9.940},{"s":"シミュレーション","z":5,"k":0.7943,"P":6.374},{"s":"シミュレーション","z":5,"k":1.0,"P":4.030},{"s":"シミュレーション","z":5,"k":1.259,"P":2.486},{"s":"シミュレーション","z":5,"k":1.585,"P":1.563},{"s":"シミュレーション","z":5,"k":1.995,"P":1.004},{"s":"シミュレーション","z":5,"k":2.512,"P":0.6583},{"s":"シミュレーション","z":5,"k":3.162,"P":0.4316},{"s":"シミュレーション","z":5,"k":3.981,"P":0.2825},{"s":"シミュレーション","z":5,"k":5.012,"P":0.1851},
        {"s":"シミュレーション","z":6,"k":0.02512,"P":768.0},{"s":"シミュレーション","z":6,"k":0.03162,"P":641.7},{"s":"シミュレーション","z":6,"k":0.03981,"P":510.9},{"s":"シミュレーション","z":6,"k":0.04467,"P":477.0},{"s":"シミュレーション","z":6,"k":0.05012,"P":435.6},{"s":"シミュレーション","z":6,"k":0.05623,"P":407.6},{"s":"シミュレーション","z":6,"k":0.0631,"P":377.4},{"s":"シミュレーション","z":6,"k":0.07079,"P":333.6},{"s":"シミュレーション","z":6,"k":0.07943,"P":278.8},{"s":"シミュレーション","z":6,"k":0.08913,"P":226.4},{"s":"シミュレーション","z":6,"k":0.1,"P":190.3},{"s":"シミュレーション","z":6,"k":0.1122,"P":172.4},{"s":"シミュレーション","z":6,"k":0.1259,"P":150.2},{"s":"シミュレーション","z":6,"k":0.1413,"P":120.1},{"s":"シミュレーション","z":6,"k":0.1585,"P":94.43},{"s":"シミュレーション","z":6,"k":0.1778,"P":82.63},{"s":"シミュレーション","z":6,"k":0.1995,"P":65.16},{"s":"シミュレーション","z":6,"k":0.2239,"P":52.08},{"s":"シミュレーション","z":6,"k":0.2512,"P":41.63},{"s":"シミュレーション","z":6,"k":0.3162,"P":26.53},{"s":"シミュレーション","z":6,"k":0.3981,"P":16.94},{"s":"シミュレーション","z":6,"k":0.5012,"P":10.80},{"s":"シミュレーション","z":6,"k":0.631,"P":6.897},{"s":"シミュレーション","z":6,"k":0.7943,"P":4.405},{"s":"シミュレーション","z":6,"k":1.0,"P":2.773},{"s":"シミュレーション","z":6,"k":1.259,"P":1.701},{"s":"シミュレーション","z":6,"k":1.585,"P":1.041},{"s":"シミュレーション","z":6,"k":1.995,"P":0.6516},{"s":"シミュレーション","z":6,"k":2.512,"P":0.4037},{"s":"シミュレーション","z":6,"k":3.162,"P":0.2502},{"s":"シミュレーション","z":6,"k":3.981,"P":0.1563},{"s":"シミュレーション","z":6,"k":5.012,"P":0.0998}
      ]},
      "encoding": {
        "x": {"field": "k", "type": "quantitative",
          "scale": {"type": "log", "domain": [0.01, 4.75], "nice": false},
          "axis": {
            "orient": "bottom",
            "values": [0.01,0.02,0.03,0.04,0.05,0.06,0.07,0.08,0.09,0.1,0.2,0.3,0.4,0.5,0.6,0.7,0.8,0.9,1,2,3,4],
            "labelExpr": "abs(log(datum.value)/LN10 - round(log(datum.value)/LN10)) < 0.000001 ? format(datum.value, '.2f') : ''",
            "tickSize": {"condition": {"test": "abs(log(datum.value)/LN10 - round(log(datum.value)/LN10)) < 0.000001", "value": -15}, "value": -7},
            "tickWidth": 2, "tickColor": "#333", "domainColor": "#333", "domainWidth": 2, "grid": false,
            "labelFont": "DejaVu Sans", "labelFontWeight": 300, "labelFontSize": 33, "labelColor": "#222", "labelPadding": 41,
            "labelFlush": false, "labelOverlap": false, "labelBound": false,
            "title": "Wavenumber [h Mpc⁻¹]", "titleFont": "DejaVu Sans", "titleFontSize": 37, "titleFontWeight": 300, "titleColor": "#222", "titlePadding": 3
          }
        },
        "y": {"field": "P", "type": "quantitative",
          "scale": {"type": "log", "domain": [0.1, 20000], "nice": false},
          "axis": {
            "orient": "left",
            "values": [0.1,0.2,0.3,0.4,0.5,0.6,0.7,0.8,0.9,1,2,3,4,5,6,7,8,9,10,20,30,40,50,60,70,80,90,100,200,300,400,500,600,700,800,900,1000,2000,3000,4000,5000,6000,7000,8000,9000,10000],
            "labelExpr": "abs(log(datum.value)/LN10 - round(log(datum.value)/LN10)) < 0.000001 ? format(datum.value, '.1f') : ''",
            "tickSize": {"condition": {"test": "abs(log(datum.value)/LN10 - round(log(datum.value)/LN10)) < 0.000001", "value": -15}, "value": -8},
            "tickWidth": 2, "tickColor": "#333", "domainColor": "#333", "domainWidth": 2, "grid": false,
            "labelFont": "DejaVu Sans", "labelFontWeight": 300, "labelFontSize": 34, "labelColor": "#222", "labelPadding": 30,
            "labelFlush": false, "labelOverlap": false, "labelBound": false,
            "title": "Power Spectrum,P(k)  [h⁻³  Mpc³]", "titleFont": "DejaVu Sans", "titleFontSize": 38, "titleFontWeight": 300, "titleColor": "#222", "titlePadding": 29
          }
        },
        "detail": {"field": "z", "type": "nominal"}
      },
      "layer": [
        {
          "transform": [{"filter": "datum.s === '線形理論'"}],
          "mark": {"type": "line", "clip": true, "strokeWidth": 2, "interpolate": "monotone"},
          "encoding": {
            "color": {"field": "s", "type": "nominal", "scale": {"domain": ["摂動論","シミュレーション","線形理論"], "range": ["#d00000","#0000f0","#10a870"]},
              "legend": {"title": null, "orient": "none", "legendX": 25, "legendY": 375, "symbolType": "stroke", "symbolSize": 10000, "symbolStrokeWidth": 2, "labelFont": "Noto Sans CJK JP", "labelFontSize": 58, "labelColor": "#000", "labelOffset": 10, "labelLimit": 900, "rowPadding": 0, "clipHeight": 73, "padding": 0}},
            "strokeDash": {"field": "s", "type": "nominal", "scale": {"domain": ["摂動論","シミュレーション","線形理論"], "range": [[1,0],[10,7],[8,3,2,3]]},
              "legend": {"title": null, "orient": "none", "legendX": 25, "legendY": 375, "symbolType": "stroke", "symbolSize": 10000, "symbolStrokeWidth": 2, "labelFont": "Noto Sans CJK JP", "labelFontSize": 58, "labelColor": "#000", "labelOffset": 10, "labelLimit": 900, "rowPadding": 0, "clipHeight": 73, "padding": 0}}
          }
        },
        {
          "transform": [{"filter": "datum.s === '摂動論'"}],
          "mark": {"type": "line", "clip": true, "strokeWidth": 2, "interpolate": "monotone"},
          "encoding": {
            "color": {"field": "s", "type": "nominal"},
            "strokeDash": {"field": "s", "type": "nominal"}
          }
        },
        {
          "transform": [{"filter": "datum.s === 'シミュレーション'"}],
          "mark": {"type": "line", "clip": true, "strokeWidth": 2.2, "interpolate": "monotone"},
          "encoding": {
            "color": {"field": "s", "type": "nominal"},
            "strokeDash": {"field": "s", "type": "nominal"}
          }
        },
        {
          "data": {"values": [
            {"t": "z=1", "k": 0.3838, "P": 834},
            {"t": "z=6", "k": 0.05634, "P": 81.7}
          ]},
          "mark": {"type": "text", "font": "Lato", "fontSize": 52, "fontWeight": "bold", "align": "center", "baseline": "alphabetic", "color": "#000"},
          "encoding": {
            "text": {"field": "t", "type": "nominal"},
            "detail": null
          }
        }
      ]
    },
    {
      "data": {"values": [{"k": 0.1, "P": 1}]},
      "mark": {"type": "point", "opacity": 0},
      "encoding": {
        "x": {"field": "k", "type": "quantitative",
          "scale": {"type": "log", "domain": [0.01, 4.75], "nice": false},
          "axis": {
            "orient": "top",
            "values": [0.01,0.02,0.03,0.04,0.05,0.06,0.07,0.08,0.09,0.1,0.2,0.3,0.4,0.5,0.6,0.7,0.8,0.9,1,2,3,4],
            "labels": false, "title": null, "grid": false,
            "tickSize": {"condition": {"test": "abs(log(datum.value)/LN10 - round(log(datum.value)/LN10)) < 0.000001", "value": -12}, "value": -6},
            "tickWidth": 2, "tickColor": "#333", "domainColor": "#333", "domainWidth": 2
          }
        },
        "y": {"field": "P", "type": "quantitative",
          "scale": {"type": "log", "domain": [0.1, 20000], "nice": false},
          "axis": {
            "orient": "right",
            "values": [0.1,0.2,0.3,0.4,0.5,0.6,0.7,0.8,0.9,1,2,3,4,5,6,7,8,9,10,20,30,40,50,60,70,80,90,100,200,300,400,500,600,700,800,900,1000,2000,3000,4000,5000,6000,7000,8000,9000,10000],
            "labels": false, "title": null, "grid": false,
            "tickSize": {"condition": {"test": "abs(log(datum.value)/LN10 - round(log(datum.value)/LN10)) < 0.000001", "value": -10}, "value": -5},
            "tickWidth": 2, "tickColor": "#333", "domainColor": "#333", "domainWidth": 2
          }
        }
      }
    }
  ],
  "resolve": {"scale": {"x": "independent", "y": "independent"}, "axis": {"x": "independent", "y": "independent"}}
}
